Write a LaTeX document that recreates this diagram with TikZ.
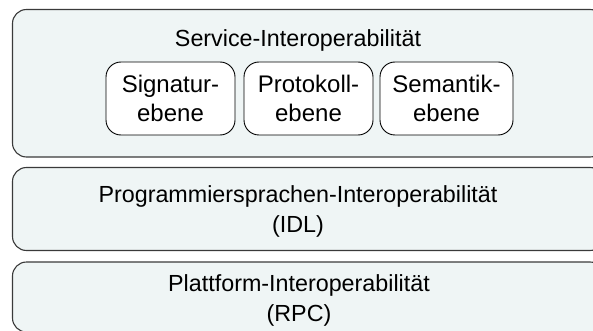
\documentclass[tikz,border=0pt]{standalone}
\usepackage{fontspec}
\setmainfont{Liberation Sans}
\definecolor{layerfill}{HTML}{EFF5F5}
\definecolor{layerline}{HTML}{3A3A3A}
\newcommand{\labelfont}{\fontsize{23.3}{29.5}\selectfont}
\newcommand{\sublabelfont}{\fontsize{24}{29.5}\selectfont}
\tikzset{
  layer/.style={draw=layerline, fill=layerfill, line width=1.1pt, rounded corners=14pt},
  sublayer/.style={draw=black, fill=white, line width=0.9pt, rounded corners=15pt,
    align=center, inner sep=0pt, font=\sublabelfont, minimum height=73pt},
  caption/.style={align=center, inner sep=0pt, font=\labelfont, anchor=base},
}
\begin{document}
\begin{tikzpicture}[x=1pt, y=-1pt]
  \useasboundingbox (0,0) rectangle (593,331);
  \clip (0,0) rectangle (593,331);

  % the three stacked layers
  \draw[layer] (12.5,9.5) rectangle (604,157);
  \draw[layer] (12.5,167.5) rectangle (604,250.5);
  \draw[layer] (12.5,262) rectangle (604,332);

  % service layer with its three sub-levels
  \node[caption] (service) at (298,47) {Service-Interoperabilität};
  \node[sublayer, minimum width=129pt] (sig)  at (170.5,98.5) {Signatur-\\ebene};
  \node[sublayer, minimum width=129pt] (prot) at (308.5,98.5) {Protokoll-\\ebene};
  \node[sublayer, minimum width=133pt] (sem)  at (446.5,98.5) {Semantik-\\ebene};

  % language and platform layers (anchored at the baseline of the last line)
  \node[caption] (lang) at (298,232) {Programmiersprachen-Interoperabilität\\(IDL)};
  \node[caption] (plat) at (299,321) {Plattform-Interoperabilität\\(RPC)};
\end{tikzpicture}
\end{document}
